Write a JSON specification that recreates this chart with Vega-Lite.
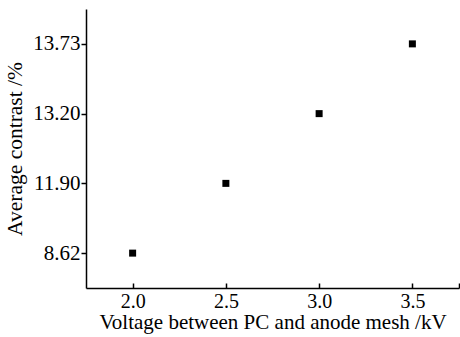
{
  "$schema": "https://vega.github.io/schema/vega-lite/v6.json",
  "autosize": "none",
  "width": 373,
  "height": 279,
  "padding": {"left": 86, "top": 9, "right": 1, "bottom": 49},
  "background": "white",
  "config": {
    "view": {"stroke": null},
    "font": "Liberation Serif",
    "axis": {
      "domainColor": "black",
      "domainWidth": 1.5,
      "tickColor": "black",
      "tickWidth": 1.5,
      "grid": false,
      "labelColor": "black",
      "titleColor": "black",
      "labelFont": "Liberation Serif",
      "titleFont": "Liberation Serif",
      "titleFontWeight": "normal",
      "labelFontSize": 21
    }
  },
  "data": {
    "values": [
      {"voltage": 2.0, "contrast": 8.62},
      {"voltage": 2.5, "contrast": 11.90},
      {"voltage": 3.0, "contrast": 13.20},
      {"voltage": 3.5, "contrast": 13.73}
    ]
  },
  "mark": {"type": "point", "shape": "square", "filled": true, "color": "black", "size": 49, "opacity": 1},
  "encoding": {
    "x": {
      "field": "voltage",
      "type": "quantitative",
      "scale": {"domain": [1.75, 3.75], "nice": false, "zero": false},
      "axis": {
        "values": [2, 2.5, 3, 3.5, 3.75],
        "labelExpr": "datum.value > 3.6 ? '' : format(datum.value, '.1f')",
        "tickSize": -5,
        "labelPadding": 8,
        "labelFontSize": 20,
        "title": "Voltage between PC and anode mesh /kV",
        "titleFontSize": 21,
        "titlePadding": 0
      }
    },
    "y": {
      "field": "contrast",
      "type": "ordinal",
      "sort": "descending",
      "scale": {"type": "point", "padding": 0.5},
      "axis": {
        "labelExpr": "format(datum.value, '.2f')",
        "tickSize": 5,
        "labelPadding": 1,
        "title": "Average contrast /%",
        "titleFontSize": 21.5,
        "titlePadding": 6
      }
    }
  }
}
